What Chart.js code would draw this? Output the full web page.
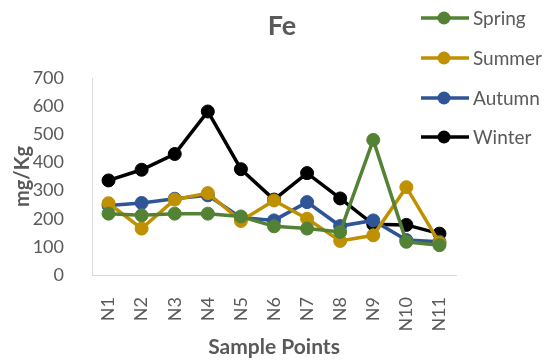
<!DOCTYPE html>
<html>
<head>
<meta charset="utf-8">
<script src="https://cdn.jsdelivr.net/npm/chart.js@4/dist/chart.umd.min.js"></script>
<style>
  html, body { margin: 0; padding: 0; background: #ffffff; }
  #wrap { width: 554px; height: 360px; }
</style>
</head>
<body>
<div id="wrap"><canvas id="c" width="554" height="360"></canvas></div>
<script>
// Fe concentration (mg/Kg) at sample points N1–N11, per season
const samplePoints = ['N1', 'N2', 'N3', 'N4', 'N5', 'N6', 'N7', 'N8', 'N9', 'N10', 'N11'];
const spring = [218, 212, 218, 218, 208, 173, 165, 153, 480, 118, 106];
const summer = [255, 165, 268, 291, 192, 265, 200, 121, 141, 312, 114];
const autumn = [247, 256, 271, 283, 204, 194, 259, 174, 194, 124, 118];
const winter = [336, 374, 430, 581, 376, 268, 362, 272, 180, 178, 147];
const seriesNames = ['Spring', 'Summer', 'Autumn', 'Winter'];
const seriesColors = ['#548235', '#BF9000', '#2F5597', '#000000'];
const yTicks = [0, 100, 200, 300, 400, 500, 600, 700];

const FONT = 'Lato, "Open Sans", "DejaVu Sans", sans-serif';
const GREY = '#595959';

const seriesValues = [spring, summer, autumn, winter];
const datasets = seriesValues.map((vals, i) => ({
  label: seriesNames[i],
  data: vals,
  borderColor: seriesColors[i],
  backgroundColor: seriesColors[i],
  pointBackgroundColor: seriesColors[i],
  pointBorderColor: seriesColors[i],
  borderWidth: 3.5,
  pointRadius: 6.5,
  pointBorderWidth: 1,
  tension: 0
}));

// Chart title and a legend that sits to the right, over the top of the plot
const decorations = {
  id: 'decorations',
  afterDraw(chart) {
    const ctx = chart.ctx;
    ctx.save();
    ctx.fillStyle = GREY;
    ctx.font = 'bold 27px ' + FONT;
    ctx.textAlign = 'center';
    ctx.textBaseline = 'alphabetic';
    ctx.fillText('Fe', 282, 35);

    const rows = [18, 58, 98, 137];
    chart.data.datasets.forEach((ds, i) => {
      const y = rows[i];
      ctx.strokeStyle = ds.borderColor;
      ctx.lineWidth = 3.5;
      ctx.beginPath();
      ctx.moveTo(421, y);
      ctx.lineTo(469, y);
      ctx.stroke();
      ctx.fillStyle = ds.borderColor;
      ctx.beginPath();
      ctx.arc(444, y, 6.5, 0, Math.PI * 2);
      ctx.fill();
      ctx.fillStyle = GREY;
      ctx.font = '19px ' + FONT;
      ctx.textAlign = 'left';
      ctx.textBaseline = 'middle';
      ctx.fillText(ds.label, 473, y + 1);
    });
    ctx.restore();
  }
};

new Chart(document.getElementById('c'), {
  type: 'line',
  data: { labels: samplePoints, datasets },
  options: {
    responsive: false,
    animation: false,
    layout: { padding: { top: 78, right: 98, left: 0, bottom: 0 } },
    plugins: {
      legend: { display: false },
      title: { display: false },
      tooltip: { enabled: false }
    },
    scales: {
      x: {
        offset: true,
        grid: { display: false },
        border: { display: true, color: '#d9d9d9', width: 1 },
        ticks: {
          color: GREY,
          font: { family: FONT, size: 18 },
          minRotation: 90,
          maxRotation: 90,
          padding: 14,
          autoSkip: false
        },
        title: {
          display: true,
          text: 'Sample Points',
          color: GREY,
          font: { family: FONT, size: 21, weight: 'bold' },
          padding: { top: 1, bottom: 0 }
        },
        afterFit(scale) { scale.height = 85; }
      },
      y: {
        min: yTicks[0],
        max: yTicks[yTicks.length - 1],
        grid: { display: false },
        border: { display: true, color: '#d9d9d9', width: 1 },
        afterBuildTicks(scale) { scale.ticks = yTicks.map(v => ({ value: v })); },
        ticks: {
          color: GREY,
          font: { family: FONT, size: 18 },
          padding: 20
        },
        title: {
          display: true,
          text: 'mg/Kg',
          color: GREY,
          font: { family: FONT, size: 20, weight: 'bold' },
          padding: { top: 11, bottom: 0 }
        },
        afterFit(scale) { scale.width = 92; }
      }
    }
  },
  plugins: [decorations]
});
</script>
</body>
</html>
